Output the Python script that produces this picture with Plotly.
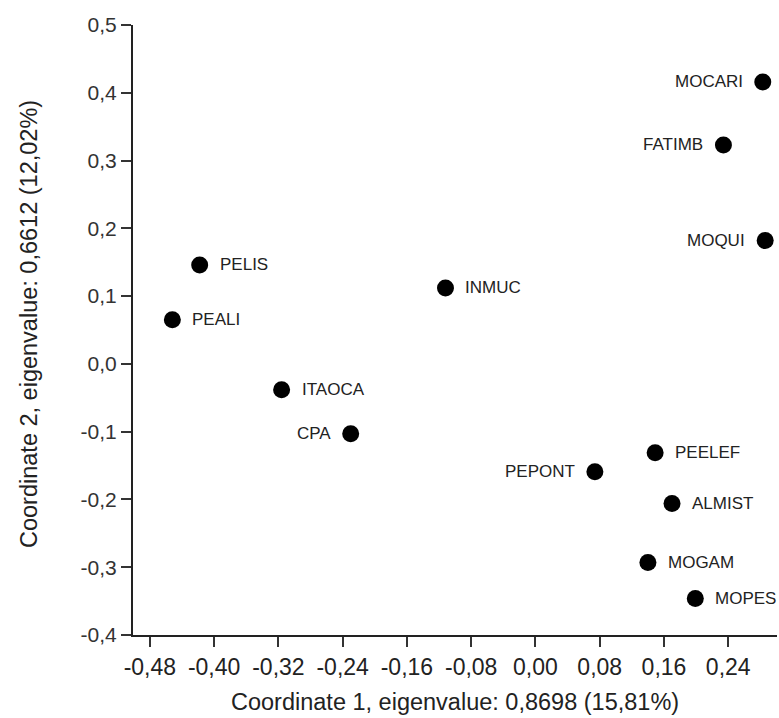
import plotly.graph_objects as go

names = ["MOCARI", "FATIMB", "MOQUI", "INMUC", "PELIS", "PEALI", "ITAOCA", "CPA",
         "PEELEF", "PEPONT", "ALMIST", "MOGAM", "MOPES"]
coord1 = [0.283, 0.234, 0.286, -0.112, -0.418, -0.452, -0.316, -0.230,
          0.149, 0.074, 0.170, 0.140, 0.199]
coord2 = [0.416, 0.323, 0.182, 0.112, 0.146, 0.065, -0.038, -0.103,
          -0.131, -0.159, -0.206, -0.293, -0.346]
label_side = ["left", "left", "left", "right", "right", "right", "right", "left",
              "right", "left", "right", "right", "right"]

x_tickvals = [-0.48, -0.40, -0.32, -0.24, -0.16, -0.08, 0.00, 0.08, 0.16, 0.24]
x_ticktext = ["-0,48", "-0,40", "-0,32", "-0,24", "-0,16", "-0,08", "0,00", "0,08", "0,16", "0,24"]
y_tickvals = [-0.4, -0.3, -0.2, -0.1, 0.0, 0.1, 0.2, 0.3, 0.4, 0.5]
y_ticktext = ["-0,4", "-0,3", "-0,2", "-0,1", "0,0", "0,1", "0,2", "0,3", "0,4", "0,5"]

x_title = "Coordinate 1, eigenvalue: 0,8698 (15,81%)"
y_title = "Coordinate 2, eigenvalue: 0,6612 (12,02%)"

font_family = "Liberation Sans, Arial, sans-serif"

fig = go.Figure()
fig.add_trace(go.Scatter(
    x=coord1, y=coord2, mode="markers",
    marker=dict(size=17, color="black", line=dict(width=0)),
    hoverinfo="text", text=names, showlegend=False,
))

annotations = []
for n, xv, yv, side in zip(names, coord1, coord2, label_side):
    annotations.append(dict(
        x=xv, y=yv, xref="x", yref="y", text=n, showarrow=False,
        xanchor="left" if side == "right" else "right",
        yanchor="middle",
        xshift=18 if side == "right" else -18,
        font=dict(family=font_family, size=17, color="#222222"),
    ))

# axis titles
annotations.append(dict(
    x=0.5, y=-0.1098, xref="paper", yref="paper", text=x_title, showarrow=False,
    xanchor="center", yanchor="middle",
    font=dict(family=font_family, size=23.5, color="#222222"),
))
annotations.append(dict(
    x=-0.1615, y=0.5098, xref="paper", yref="paper", text=y_title, showarrow=False,
    xanchor="center", yanchor="middle", textangle=-90,
    font=dict(family=font_family, size=23.5, color="#222222"),
))

fig.update_layout(
    width=779, height=718,
    margin=dict(l=133, r=2, t=25, b=83, autoexpand=False),
    plot_bgcolor="white", paper_bgcolor="white",
    annotations=annotations,
    font=dict(family=font_family, color="#222222"),
)
fig.update_xaxes(
    range=[-0.501, 0.3007], showgrid=False, zeroline=False,
    showline=True, linecolor="#222222", linewidth=2,
    ticks="outside", ticklen=10, tickwidth=2, tickcolor="#333333",
    tickvals=x_tickvals, ticktext=x_ticktext,
    tickfont=dict(family=font_family, size=23, color="#222222"),
    automargin=False,
)
fig.update_yaxes(
    range=[-0.4, 0.5], showgrid=False, zeroline=False,
    showline=True, linecolor="#222222", linewidth=2,
    ticks="outside", ticklen=10, tickwidth=2, tickcolor="#333333",
    tickvals=y_tickvals, ticktext=y_ticktext,
    tickfont=dict(family=font_family, size=21, color="#333333"),
    automargin=False,
)

fig.write_html("out.html")
